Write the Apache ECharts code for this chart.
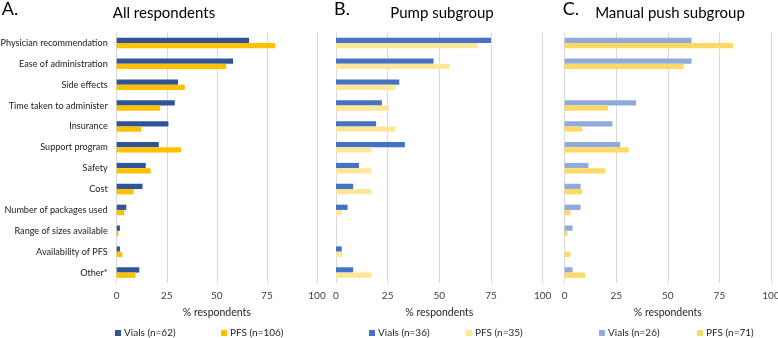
<!DOCTYPE html>
<html>
<head>
<meta charset="utf-8">
<script src="https://cdn.jsdelivr.net/npm/echarts@6/dist/echarts.min.js"></script>
<style>
html,body{margin:0;padding:0;background:#fff;}
#main{width:778px;height:338px;}
</style>
</head>
<body>
<div id="main"></div>
<script>
var categories = ['Physician recommendation','Ease of administration','Side effects','Time taken to administer','Insurance','Support program','Safety','Cost','Number of packages used','Range of sizes available','Availability of PFS','Other*'];
var xTicks = [0,25,50,75,100];
// A. all respondents
var allVials = [66.1,58.1,30.6,29.0,25.8,21.0,14.5,12.9,4.8,1.6,1.6,11.3];
var allPfs = [79.2,54.7,34.0,21.7,12.3,32.1,17.0,8.5,3.8,0.9,2.8,9.4];
// B. pump subgroup
var pumpVials = [75.0,47.2,30.6,22.2,19.4,33.3,11.1,8.3,5.6,0,2.8,8.3];
var pumpPfs = [68.6,55.0,28.6,25.7,28.6,17.1,17.1,17.1,2.9,0,2.9,17.1];
// C. manual push subgroup
var manualVials = [61.5,61.5,0,34.6,23.1,26.9,11.5,7.7,7.7,3.8,0,3.8];
var manualPfs = [81.7,57.7,0,21.1,8.5,31.0,19.7,8.5,2.8,1.4,2.8,9.9];

var panels = [
  {letter:'A.', title:'All respondents', left:116.7, right:317, tx:164, vials:allVials, pfs:allPfs, vName:'Vials (n=62)', pName:'PFS (n=106)', vCol:'#2F5597', pCol:'#FFC000', labels:true, lg1:115, lg2:221},
  {letter:'B.', title:'Pump subgroup', left:336, right:542.7, tx:442, vials:pumpVials, pfs:pumpPfs, vName:'Vials (n=36)', pName:'PFS (n=35)', vCol:'#4472C4', pCol:'#FFE699', labels:false, lg1:369, lg2:466},
  {letter:'C.', title:'Manual push subgroup', left:564.7, right:771, tx:670, vials:manualVials, pfs:manualPfs, vName:'Vials (n=26)', pName:'PFS (n=71)', vCol:'#8FAADC', pCol:'#FFD966', labels:false, lg1:599, lg2:697}
];
var font = 'Lato';

var grid = [], xAxis = [], yAxis = [], series = [], legend = [], title = [];
panels.forEach(function(p, i){
  grid.push({left:p.left, width:p.right-p.left, top:32.5, height:250.5, outerBoundsMode:'none', containLabel:false});
  xAxis.push({
    gridIndex:i, type:'value', min:xTicks[0], max:xTicks[xTicks.length-1], interval:25,
    name:'% respondents', nameLocation:'middle', nameGap:24,
    nameTextStyle:{fontFamily:font, fontSize:10.5, color:'#262626'},
    axisLabel:{fontFamily:font, fontSize:10, color:'#404040', margin:8},
    axisLine:{show:false}, axisTick:{show:false},
    splitLine:{lineStyle:{color:'#D9D9D9', width:1}}
  });
  yAxis.push({
    gridIndex:i, type:'category', data:categories, inverse:true,
    axisLine:{show:false}, axisTick:{show:false},
    axisLabel:{show:p.labels, fontFamily:font, fontSize:9.1, color:'#1a1a1a', margin:9}
  });
  series.push({type:'bar', name:p.vName, xAxisIndex:i, yAxisIndex:i, data:p.vials, itemStyle:{color:p.vCol}, barWidth:5.3, barGap:'0%'});
  series.push({type:'bar', name:p.pName, xAxisIndex:i, yAxisIndex:i, data:p.pfs, itemStyle:{color:p.pCol}, barWidth:5.3, barGap:'0%'});
  [[p.vName, p.lg1],[p.pName, p.lg2]].forEach(function(l){
    legend.push({data:[l[0]], left:l[1], top:328, padding:0, itemWidth:6, itemHeight:6, icon:'rect', itemGap:5,
      textStyle:{fontFamily:font, fontSize:10, lineHeight:10, color:'#262626', padding:[0,0,0,-2]}});
  });
  title.push({text:p.letter, left:p.left - (i===0 ? 115 : 2), top:0, textStyle:{fontFamily:font, fontSize:18, fontWeight:'normal', color:'#000'}, padding:0});
  title.push({text:p.title, left:p.tx, textAlign:'center', top:6, textStyle:{fontFamily:font, fontSize:15, fontWeight:'normal', color:'#000'}, padding:0});
});

var myChart = echarts.init(document.getElementById('main'));
myChart.setOption({
  animation:false,
  title:title,
  legend:legend,
  grid:grid,
  xAxis:xAxis,
  yAxis:yAxis,
  series:series
});
</script>
</body>
</html>
